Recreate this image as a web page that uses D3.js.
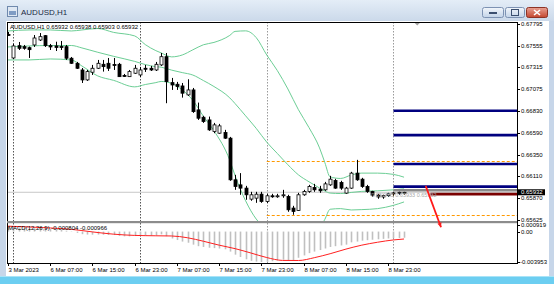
<!DOCTYPE html>
<html><head><meta charset="utf-8">
<script src="https://cdn.jsdelivr.net/npm/d3@7"></script>
<style>body{margin:0;background:#fff}svg{display:block}text{font-family:"Liberation Sans",Arial,sans-serif}</style>
</head><body>
<script>
// ---------- DATA ----------
const symbolTitle = "AUDUSD,H1";
const headerText = "AUDUSD,H1  0.65932 0.65938 0.65903 0.65932";
const macdText = "MACD(12,26,9) -0.000804 -0.000966";
const open = [0.67679,0.67419,0.67555,0.67544,0.67533,0.67563,0.67618,0.67666,0.67555,0.67552,
0.67546,0.67544,0.67416,0.67360,0.67286,0.67176,0.67261,0.67305,0.67349,0.67360,
0.67347,0.67349,0.67226,0.67212,0.67250,0.67231,0.67305,0.67305,0.67286,0.67342,
0.67433,0.67146,0.67128,0.67109,0.67010,0.67065,0.66844,0.66763,0.66733,0.66604,
0.66586,0.66593,0.66531,0.66070,0.66014,0.65978,0.65856,0.65867,0.65911,0.65830,
0.65893,0.65890,0.65900,0.65885,0.65757,0.65731,0.65904,0.65940,0.65984,0.65967,
0.65959,0.66014,0.66062,0.66040,0.65923,0.65978,0.66144,0.66077,0.65996,0.65940,
0.65900,0.65880,0.65895,0.65915,0.65925,0.65932];
const high = [0.67707,0.67574,0.67596,0.67563,0.67545,0.67673,0.67695,0.67673,0.67574,0.67599,
0.67607,0.67563,0.67430,0.67375,0.67308,0.67286,0.67342,0.67397,0.67397,0.67419,
0.67419,0.67364,0.67242,0.67286,0.67342,0.67320,0.67342,0.67331,0.67375,0.67474,
0.67474,0.67198,0.67154,0.67142,0.67183,0.67087,0.66925,0.66778,0.66770,0.66700,
0.66689,0.66623,0.66545,0.66125,0.66144,0.66003,0.65937,0.65937,0.65937,0.65915,
0.65915,0.65915,0.65959,0.65904,0.65782,0.65926,0.65959,0.66014,0.66025,0.66003,
0.66047,0.66114,0.66081,0.66059,0.65992,0.66158,0.66291,0.66092,0.66014,0.65948,
0.65915,0.65905,0.65926,0.65937,0.65940,0.65938];
const low = [0.67662,0.67408,0.67507,0.67510,0.67419,0.67541,0.67607,0.67541,0.67507,0.67496,
0.67507,0.67397,0.67353,0.67297,0.67142,0.67165,0.67231,0.67297,0.67268,0.67275,
0.67286,0.67209,0.67209,0.67209,0.67242,0.67209,0.67264,0.67275,0.67275,0.67331,
0.66918,0.67065,0.67065,0.66980,0.66999,0.66811,0.66733,0.66700,0.66612,0.66586,
0.66579,0.66523,0.66059,0.65959,0.65904,0.65849,0.65838,0.65815,0.65815,0.65812,
0.65871,0.65871,0.65871,0.65716,0.65683,0.65727,0.65893,0.65926,0.65937,0.65926,
0.65948,0.66003,0.65970,0.65959,0.65915,0.65970,0.66059,0.65981,0.65926,0.65880,
0.65860,0.65860,0.65880,0.65890,0.65905,0.65903];
const close = [0.67673,0.67552,0.67526,0.67526,0.67511,0.67640,0.67655,0.67555,0.67541,0.67535,
0.67535,0.67416,0.67360,0.67305,0.67176,0.67268,0.67305,0.67360,0.67323,0.67305,
0.67336,0.67212,0.67222,0.67268,0.67305,0.67286,0.67297,0.67286,0.67349,0.67433,
0.67157,0.67120,0.67102,0.67029,0.67065,0.66825,0.66752,0.66715,0.66623,0.66678,
0.66667,0.66531,0.66070,0.65996,0.65978,0.65904,0.65904,0.65911,0.65830,0.65893,
0.65890,0.65893,0.65904,0.65738,0.65720,0.65904,0.65940,0.65995,0.65959,0.65948,
0.66025,0.66077,0.65978,0.65978,0.65978,0.66144,0.66070,0.65996,0.65940,0.65900,
0.65880,0.65895,0.65915,0.65925,0.65932,0.65932];

// Bollinger band samples (bar index -> price)
const bbIdx    = [0,4,8,12,14,17,20,24,26,28,29,31,33,35,37,39,42,43,45,47,49,51,53,55,57,59,60,61,63,65,67,70,73,75];
const bbUpper  = [0.67718,0.67729,0.67729,0.67718,0.67729,0.67745,0.67702,0.67663,0.67567,0.67500,0.67475,0.67431,0.67452,0.67509,0.67565,0.67591,0.67669,0.67713,0.67719,0.67645,0.67452,0.67280,0.67076,0.66846,0.66648,0.66423,0.66261,0.66102,0.66085,0.66123,0.66144,0.66144,0.66130,0.66099];
const bbMiddle = [0.67541,0.67552,0.67557,0.67557,0.67530,0.67482,0.67437,0.67381,0.67346,0.67323,0.67317,0.67284,0.67257,0.67230,0.67169,0.67103,0.66977,0.66914,0.66778,0.66640,0.66487,0.66362,0.66237,0.66125,0.66048,0.65979,0.65946,0.65923,0.65918,0.65930,0.65942,0.65948,0.65959,0.65970];
const bbLower  = [0.67397,0.67397,0.67408,0.67397,0.67330,0.67220,0.67171,0.67099,0.67125,0.67146,0.67159,0.67137,0.67065,0.66951,0.66773,0.66614,0.66286,0.66116,0.65837,0.65636,0.65523,0.65445,0.65400,0.65403,0.65450,0.65534,0.65632,0.65744,0.65751,0.65736,0.65740,0.65751,0.65787,0.65825];

// MACD main (histogram) and signal samples
const macd = [0.00062,0.00058,0.00052,0.00047,0.00041,0.00043,0.00046,0.00039,0.00033,0.00028,
0.00023,0.00011,-0.00004,-0.00017,-0.00034,-0.00039,-0.00041,-0.00039,-0.00041,-0.00044,
-0.00045,-0.00056,-0.00062,-0.00062,-0.00058,-0.00056,-0.00054,-0.00052,-0.00047,-0.00036,
-0.00060,-0.00090,-0.00110,-0.00130,-0.00145,-0.00170,-0.00190,-0.00200,-0.00210,-0.00215,
-0.00220,-0.00230,-0.00260,-0.00300,-0.00330,-0.00360,-0.00380,-0.00390,-0.00395,-0.00392,
-0.00385,-0.00375,-0.00365,-0.00370,-0.00370,-0.00340,-0.00310,-0.00280,-0.00260,-0.00240,
-0.00220,-0.00200,-0.00190,-0.00180,-0.00170,-0.00140,-0.00130,-0.00118,-0.00112,-0.00106,
-0.00100,-0.00095,-0.00090,-0.00086,-0.00083,-0.000804];
const sigIdx = [0,4,8,12,16,20,24,28,31,34,37,40,43,46,49,52,55,58,61,64,67,70,73,75];
const sigVal = [0.00070,0.00060,0.000468,0.000289,-0.000044,-0.000338,-0.000498,-0.000547,-0.000572,-0.000804,-0.001257,-0.001767,-0.002217,-0.002783,-0.003374,-0.003747,-0.003758,-0.003394,-0.002878,-0.002278,-0.001764,-0.001384,-0.001086,-0.000966];

// Axes
const priceTicks = [0.67795,0.67555,0.67315,0.67075,0.66830,0.66590,0.66350,0.66110,0.65870,0.65625];
const macdTicks = [{v:0.000919,t:"0.000919"},{v:0,t:"0.00"},{v:-0.003953,t:"-0.003953"}];
const timeLabels = ["3 Mar 2023","6 Mar 07:00","6 Mar 15:00","6 Mar 23:00","7 Mar 07:00","7 Mar 15:00","7 Mar 23:00","8 Mar 07:00","8 Mar 15:00","8 Mar 23:00"];
const timeIdx = [0,8,16,24,32,40,48,56,64,72];
const daySeparators = [1,25,49,73];

// Objects
const bluePrices = [0.66835,0.66565,0.66245,0.65995];
const dayHigh = 0.66283, dayLow = 0.65683;
const bid = 0.65932;
const grayLevel = 0.65955, redLevel = 0.65912;
const arrowPts = [{i:79.1,p:0.66003},{i:82.0,p:0.65545}];
const objLabel = "\u02b90.65\u02b90.65 0.65933 0.65932";

// ---------- LAYOUT ----------
const W = 554, H = 284;
const L = 7, R = 517, mainTop = 22, mainBot = 221, subTop = 224, subBot = 263;

const svg = d3.select("body").append("svg").attr("width", W).attr("height", H);
const defs = svg.append("defs");
const tg = defs.append("linearGradient").attr("id","tb").attr("x1",0).attr("y1",0).attr("x2",0).attr("y2",1);
tg.append("stop").attr("offset",0).attr("stop-color","#e4edf7");
tg.append("stop").attr("offset",1).attr("stop-color","#cbd9ea");
const bg = defs.append("linearGradient").attr("id","btn").attr("x1",0).attr("y1",0).attr("x2",0).attr("y2",1);
bg.append("stop").attr("offset",0).attr("stop-color","#f2f6fb");
bg.append("stop").attr("offset",1).attr("stop-color","#c2d3e8");
const rg = defs.append("linearGradient").attr("id","cls").attr("x1",0).attr("y1",0).attr("x2",0).attr("y2",1);
rg.append("stop").attr("offset",0).attr("stop-color","#e8a193");
rg.append("stop").attr("offset",1).attr("stop-color","#c4462f");
defs.append("clipPath").attr("id","mainClip").append("rect").attr("x",L).attr("y",mainTop).attr("width",R-L).attr("height",mainBot-mainTop);
defs.append("clipPath").attr("id","subClip").append("rect").attr("x",L).attr("y",subTop).attr("width",R-L).attr("height",subBot-subTop);

// window frame
svg.append("rect").attr("width",W).attr("height",H).attr("fill","#c7d6e9");
svg.append("rect").attr("width",W).attr("height",21).attr("fill","url(#tb)");
svg.append("rect").attr("x",0).attr("y",276).attr("width",W).attr("height",8).attr("fill","#6ccef1");
svg.append("rect").attr("x",0).attr("y",276).attr("width",W).attr("height",1).attr("fill","#a9e3f7");
svg.append("rect").attr("x",6).attr("y",21).attr("width",543).attr("height",255).attr("fill","#fff");

// title
const ic = svg.append("g");
ic.append("rect").attr("x",7.5).attr("y",6.5).attr("width",10).attr("height",10).attr("fill","#dfe8f3").attr("stroke","#6f89ad");
ic.append("rect").attr("x",9).attr("y",11).attr("width",7).attr("height",4).attr("fill","#7f9cc4");
svg.append("text").attr("x",21).attr("y",15).attr("font-size",8).attr("fill","#1b2b44").text(symbolTitle);
// buttons
svg.append("rect").attr("x",482.5).attr("y",7.5).attr("width",21).attr("height",10).attr("rx",2).attr("fill","url(#btn)").attr("stroke","#7d92b3");
svg.append("rect").attr("x",489).attr("y",12).attr("width",8).attr("height",2).attr("fill","#3b4f6f");
svg.append("rect").attr("x",505.5).attr("y",7.5).attr("width",19).attr("height",10).attr("rx",2).attr("fill","url(#btn)").attr("stroke","#7d92b3");
svg.append("rect").attr("x",511.5).attr("y",9.5).attr("width",7).attr("height",6).attr("fill","none").attr("stroke","#3b4f6f");
svg.append("rect").attr("x",526.5).attr("y",7.5).attr("width",21).attr("height",10).attr("rx",2).attr("fill","url(#cls)").attr("stroke","#8c3326");
svg.append("path").attr("d","M534,10 L540,15 M540,10 L534,15").attr("stroke","#fff").attr("stroke-width",1.6);

// scales
const x = d3.scaleLinear().domain([0,72]).range([8.0,388.2]);
const y = d3.scaleLinear().domain([0.65625,0.67795]).range([220,24]);
const ym = d3.scaleLinear().domain([-0.003953,0.000919]).range([262,224.5]);

// day separators
const sepG = svg.append("g");
daySeparators.forEach((d,k)=>{
  sepG.append("line").attr("x1",Math.round(x(d))+0.5).attr("x2",Math.round(x(d))+0.5).attr("y1",mainTop).attr("y2",subBot)
    .attr("stroke", k<2 ? "#555" : "#9a9a9a").attr("stroke-dasharray","1.5,1.5").attr("stroke-width",1);
});

// main chart
const mg = svg.append("g").attr("clip-path","url(#mainClip)");
mg.append("line").attr("x1",L).attr("x2",R).attr("y1",y(bid)).attr("y2",y(bid)).attr("stroke","#c8c8c8");
[dayHigh,dayLow].forEach(p=>{
  mg.append("line").attr("x1",x(49)).attr("x2",R).attr("y1",Math.round(y(p))+0.5).attr("y2",Math.round(y(p))+0.5)
   .attr("stroke","#ff9900").attr("stroke-dasharray","3,2").attr("stroke-width",1);
});
const bandColor = "#6cce95";
[bbUpper,bbMiddle,bbLower].forEach(arr=>{
  const line = d3.line().x((d,k)=>x(bbIdx[k])).y(d=>y(d)).curve(d3.curveMonotoneX);
  mg.append("path").attr("d",line(arr)).attr("fill","none").attr("stroke",bandColor).attr("stroke-width",1);
});
const idx = d3.range(open.length);
const cg = mg.append("g");
cg.selectAll("line.w").data(idx).join("line")
  .attr("x1",i=>Math.round(x(i))+0.5).attr("x2",i=>Math.round(x(i))+0.5)
  .attr("y1",i=>y(high[i])).attr("y2",i=>y(low[i])).attr("stroke","#000");
cg.selectAll("rect.b").data(idx).join("rect")
  .attr("x",i=>Math.round(x(i))-1)
  .attr("y",i=>y(Math.max(open[i],close[i])))
  .attr("width",3)
  .attr("height",i=>Math.max(1,Math.abs(y(open[i])-y(close[i]))))
  .attr("fill",i=>close[i]>=open[i]?"#fff":"#000")
  .attr("stroke","#000").attr("stroke-width",0.8);

bluePrices.forEach(p=>{
  mg.append("line").attr("x1",x(73)).attr("x2",R).attr("y1",y(p)).attr("y2",y(p)).attr("stroke","#00007f").attr("stroke-width",2.6);
});
mg.append("line").attr("x1",x(73)).attr("x2",R).attr("y1",y(grayLevel)).attr("y2",y(grayLevel)).attr("stroke","#8a8a8a").attr("stroke-width",2.5);
mg.append("line").attr("x1",x(80)).attr("x2",R).attr("y1",y(redLevel)).attr("y2",y(redLevel)).attr("stroke","#7a0000").attr("stroke-width",2.8);
mg.append("text").attr("x",x(68.6)).attr("y",y(0.65878)).attr("font-size",5.5).attr("fill","#a8a8a8").text(objLabel);
svg.append("path").attr("d",`M${x(77.5)-3},22.5 L${x(77.5)+3},22.5 L${x(77.5)},25.5 Z`).attr("fill","#a0a0a0");

svg.append("text").attr("x",10).attr("y",29).attr("font-size",6).attr("fill","#000").text(headerText);

// MACD window
const sg = svg.append("g").attr("clip-path","url(#subClip)");
sg.selectAll("line.h").data(idx).join("line")
  .attr("x1",i=>Math.round(x(i))+0.5).attr("x2",i=>Math.round(x(i))+0.5)
  .attr("y1",ym(0)).attr("y2",i=>ym(macd[i])).attr("stroke","#c0c0c0").attr("stroke-width",1.6);
const sl = d3.line().x((d,k)=>x(sigIdx[k])).y(d=>ym(d)).curve(d3.curveMonotoneX);
sg.append("path").attr("d",sl(sigVal)).attr("fill","none").attr("stroke","#ff2020").attr("stroke-width",1);
svg.append("text").attr("x",8).attr("y",230).attr("font-size",6).attr("fill","#000").text(macdText);

// frames
svg.append("rect").attr("x",L+0.5).attr("y",mainTop+0.5).attr("width",R-L).attr("height",subBot-mainTop).attr("fill","none").attr("stroke","#000");
svg.append("rect").attr("x",L).attr("y",mainBot).attr("width",R-L).attr("height",2.2).attr("fill","#8c8c8c");

// arrow
const ap = arrowPts.map(d=>[x(d.i),y(d.p)]);
svg.append("line").attr("x1",ap[0][0]).attr("y1",ap[0][1]).attr("x2",ap[1][0]).attr("y2",ap[1][1]).attr("stroke","#ff1a1a").attr("stroke-width",1.8);
const ang = Math.atan2(ap[1][1]-ap[0][1], ap[1][0]-ap[0][0]);
const ah = 5;
svg.append("path").attr("d",`M${ap[1][0]},${ap[1][1]} L${ap[1][0]-ah*Math.cos(ang-0.45)},${ap[1][1]-ah*Math.sin(ang-0.45)} L${ap[1][0]-ah*Math.cos(ang+0.45)},${ap[1][1]-ah*Math.sin(ang+0.45)} Z`).attr("fill","#ff1a1a");

// price axis
const pa = svg.append("g");
priceTicks.forEach(p=>{
  pa.append("line").attr("x1",R).attr("x2",R+3).attr("y1",Math.round(y(p))+0.5).attr("y2",Math.round(y(p))+0.5).attr("stroke","#000");
  pa.append("text").attr("x",R+4).attr("y",y(p)+2).attr("font-size",6).attr("fill","#000").text(p.toFixed(5));
});
pa.append("rect").attr("x",R+1).attr("y",y(bid)-3).attr("width",27).attr("height",6).attr("fill","#000");
pa.append("text").attr("x",R+4).attr("y",y(bid)+2).attr("font-size",6).attr("fill","#fff").text(bid.toFixed(5));
macdTicks.forEach(d=>{
  pa.append("line").attr("x1",R).attr("x2",R+3).attr("y1",Math.round(ym(d.v))+0.5).attr("y2",Math.round(ym(d.v))+0.5).attr("stroke","#000");
  pa.append("text").attr("x",R+(d.v<0?3:4)).attr("y",ym(d.v)+2).attr("font-size",6).attr("fill","#000").text(d.t);
});
timeIdx.forEach((t,k)=>{
  const xx = Math.round(x(t))+0.5;
  pa.append("line").attr("x1",xx).attr("x2",xx).attr("y1",subBot).attr("y2",subBot+3).attr("stroke","#000");
  pa.append("text").attr("x",xx).attr("y",272).attr("font-size",6).attr("fill","#000").text(timeLabels[k]);
});
</script>
</body></html>
